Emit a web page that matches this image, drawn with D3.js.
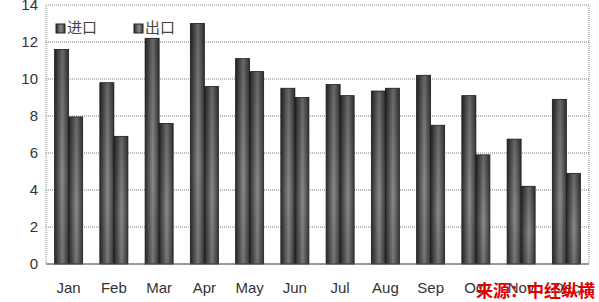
<!DOCTYPE html>
<html>
<head>
<meta charset="utf-8">
<script src="https://cdn.jsdelivr.net/npm/d3@7"></script>
<style>
  body { margin: 0; background: #fff; }
  svg { display: block; }
</style>
</head>
<body>
<div id="chart"></div>
<script>
// chart data
const months = ['Jan', 'Feb', 'Mar', 'Apr', 'May', 'Jun', 'Jul', 'Aug', 'Sep', 'Oct', 'Nov', 'Dec'];
const imports = [11.6, 9.8, 12.2, 13.0, 11.1, 9.5, 9.7, 9.35, 10.2, 9.1, 6.75, 8.9];
const exports = [7.95, 6.9, 7.6, 9.6, 10.4, 9.0, 9.1, 9.5, 7.5, 5.9, 4.2, 4.9];
const seriesNames = ['进口', '出口'];
const yTicks = [0, 2, 4, 6, 8, 10, 12, 14];

const width = 599, height = 302;
const margin = { top: 5, right: 10, bottom: 38, left: 46 };

const svg = d3.select('#chart')
    .append('svg')
    .attr('width', width)
    .attr('height', height);

// bar shading
const defs = svg.append('defs');
const grad = defs.append('linearGradient')
    .attr('id', 'barGrad')
    .attr('x1', '0%').attr('x2', '100%')
    .attr('y1', '0%').attr('y2', '0%');
grad.append('stop').attr('offset', '0%').attr('stop-color', '#2a2a2a');
grad.append('stop').attr('offset', '55%').attr('stop-color', '#8a8a8a');
grad.append('stop').attr('offset', '100%').attr('stop-color', '#3a3a3a');

const vgrad = defs.append('linearGradient')
    .attr('id', 'barShade')
    .attr('x1', '0%').attr('x2', '0%')
    .attr('y1', '0%').attr('y2', '100%');
vgrad.append('stop').attr('offset', '0%').attr('stop-color', '#000').attr('stop-opacity', 0.25);
vgrad.append('stop').attr('offset', '60%').attr('stop-color', '#000').attr('stop-opacity', 0.0);
vgrad.append('stop').attr('offset', '100%').attr('stop-color', '#000').attr('stop-opacity', 0.15);

const x = d3.scaleBand()
    .domain(months)
    .range([margin.left, width - margin.right])
    .paddingInner(0.38)
    .paddingOuter(0.19);

const xSub = d3.scaleBand()
    .domain([0, 1])
    .range([0, x.bandwidth()]);

const y = d3.scaleLinear()
    .domain([0, 14])
    .range([height - margin.bottom, margin.top]);

// plot frame and grid
svg.append('rect')
    .attr('x', margin.left)
    .attr('y', y(14))
    .attr('width', width - margin.right - margin.left)
    .attr('height', y(0) - y(14))
    .attr('fill', 'none')
    .attr('stroke', '#888')
    .attr('stroke-dasharray', '1,1');

svg.append('g')
    .selectAll('line')
    .data(yTicks.slice(1, -1))
    .enter().append('line')
    .attr('x1', margin.left)
    .attr('x2', width - margin.right)
    .attr('y1', d => y(d))
    .attr('y2', d => y(d))
    .attr('stroke', '#777')
    .attr('stroke-dasharray', '1,1');

// y axis labels
const yAxis = d3.axisLeft(y).tickValues(yTicks).tickSize(0).tickPadding(8);
const yg = svg.append('g')
    .attr('transform', `translate(${margin.left},0)`)
    .call(yAxis);
yg.select('.domain').remove();
yg.selectAll('text')
    .attr('font-family', 'Arial, "Liberation Sans", sans-serif')
    .attr('font-size', 15)
    .attr('fill', '#333');

// bars
const data = months.map((m, i) => ({ month: m, values: [imports[i], exports[i]] }));
const groups = svg.append('g')
    .selectAll('g')
    .data(data)
    .enter().append('g')
    .attr('transform', d => `translate(${x(d.month)},0)`);

groups.selectAll('rect.bar')
    .data(d => d.values)
    .enter().append('rect')
    .attr('class', 'bar')
    .attr('x', (d, i) => xSub(i))
    .attr('y', d => y(d))
    .attr('width', xSub.bandwidth())
    .attr('height', d => y(0) - y(d))
    .attr('fill', 'url(#barGrad)')
    .attr('stroke', '#222')
    .attr('stroke-width', 0.8);

groups.selectAll('rect.shade')
    .data(d => d.values)
    .enter().append('rect')
    .attr('class', 'shade')
    .attr('x', (d, i) => xSub(i))
    .attr('y', d => y(d))
    .attr('width', xSub.bandwidth())
    .attr('height', d => y(0) - y(d))
    .attr('fill', 'url(#barShade)');

// baseline
svg.append('line')
    .attr('x1', margin.left)
    .attr('x2', width - margin.right)
    .attr('y1', y(0))
    .attr('y2', y(0))
    .attr('stroke', '#555')
    .attr('stroke-width', 1.2);

// x axis labels
const xAxis = d3.axisBottom(x).tickSize(0).tickPadding(18);
const xg = svg.append('g')
    .attr('transform', `translate(0,${y(0)})`)
    .call(xAxis);
xg.select('.domain').remove();
xg.selectAll('text')
    .attr('font-family', 'Arial, "Liberation Sans", sans-serif')
    .attr('font-size', 15)
    .attr('fill', '#333');

// legend
const legend = svg.append('g')
    .selectAll('g')
    .data(seriesNames)
    .enter().append('g')
    .attr('transform', (d, i) => `translate(${56 + i * 78},24)`);
legend.append('rect')
    .attr('width', 9)
    .attr('height', 9)
    .attr('fill', 'url(#barGrad)')
    .attr('stroke', '#222');
legend.append('text')
    .attr('x', 11)
    .attr('y', 9)
    .attr('font-family', '"Noto Sans CJK SC", sans-serif')
    .attr('font-size', 15)
    .attr('fill', '#444')
    .text(d => d);

// source note
svg.append('text')
    .attr('x', 595)
    .attr('y', 297)
    .attr('text-anchor', 'end')
    .attr('font-family', '"Noto Sans CJK SC", sans-serif')
    .attr('font-weight', 'bold')
    .attr('font-size', 17)
    .attr('fill', '#e00000')
    .text('来源：中经纵横');
</script>
</body>
</html>
